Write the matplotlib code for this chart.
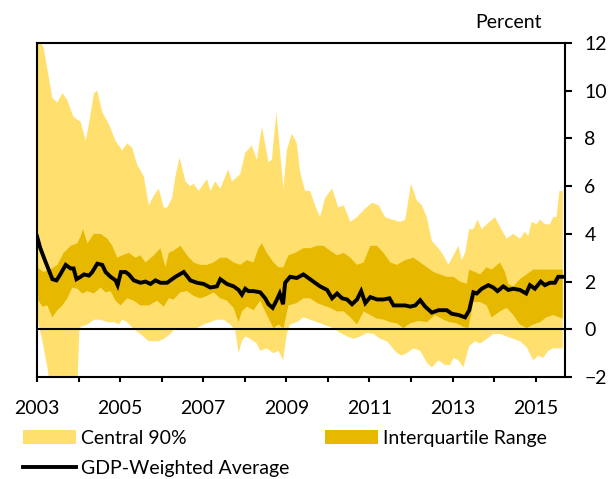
import numpy as np
import matplotlib
matplotlib.use("Agg")
import matplotlib.pyplot as plt
from matplotlib.patches import Patch
from matplotlib.lines import Line2D

plt.rcParams['font.family'] = ['Lato', 'DejaVu Sans']

# upper bound of central 90% band
p95_t = [2003.00, 2003.16, 2003.28, 2003.37, 2003.49, 2003.61, 2003.73, 2003.88, 2004.05, 2004.17,
         2004.25, 2004.37, 2004.45, 2004.57, 2004.73, 2004.89, 2005.05, 2005.17, 2005.29, 2005.41,
         2005.57, 2005.69, 2005.81, 2005.93, 2006.05, 2006.13, 2006.25, 2006.33, 2006.43, 2006.57,
         2006.69, 2006.77, 2006.89, 2007.09, 2007.17, 2007.29, 2007.41, 2007.60, 2007.69, 2007.89,
         2008.01, 2008.17, 2008.29, 2008.41, 2008.57, 2008.65, 2008.76, 2008.93, 2009.01, 2009.13,
         2009.25, 2009.33, 2009.45, 2009.57, 2009.69, 2009.81, 2009.93, 2010.10, 2010.25, 2010.38,
         2010.54, 2010.70, 2010.86, 2011.06, 2011.22, 2011.38, 2011.54, 2011.74, 2011.86, 2012.00,
         2012.14, 2012.26, 2012.38, 2012.50, 2012.66, 2012.78, 2012.90, 2013.02, 2013.14, 2013.22,
         2013.30, 2013.40, 2013.50, 2013.60, 2013.70, 2013.82, 2014.02, 2014.14, 2014.30, 2014.46,
         2014.62, 2014.74, 2014.82, 2014.90, 2015.02, 2015.10, 2015.22, 2015.34, 2015.42, 2015.50,
         2015.57, 2015.65]
p95 = [12.3, 11.8, 10.6, 9.7, 9.5, 9.9, 9.6, 8.9, 8.7, 7.9,
       8.6, 9.9, 10.0, 9.1, 8.6, 7.9, 7.5, 7.8, 7.6, 6.9,
       6.4, 5.2, 5.6, 5.9, 5.1, 5.1, 5.5, 6.4, 7.2, 6.2,
       6.0, 6.1, 5.8, 6.3, 5.8, 6.2, 5.9, 6.7, 6.2, 6.5,
       7.4, 7.7, 7.1, 8.5, 7.0, 7.1, 9.1, 5.9, 7.5, 8.2,
       7.8, 6.6, 5.8, 5.8, 5.2, 4.7, 5.5, 5.9, 5.1, 5.2,
       4.5, 4.7, 5.0, 5.3, 5.2, 4.7, 4.6, 4.5, 4.6, 6.1,
       5.4, 5.2, 4.7, 3.7, 3.4, 3.1, 2.7, 3.1, 3.5, 2.9,
       3.2, 4.2, 4.2, 4.6, 4.2, 4.4, 4.7, 4.3, 3.8, 4.0,
       3.8, 4.1, 3.9, 4.5, 4.4, 4.6, 4.4, 4.4, 4.7, 4.7,
       5.8, 5.8]

# lower bound of central 90% band
p05_t = [2003.00, 2003.13, 2003.25, 2003.32, 2003.56, 2003.81, 2003.97, 2004.02, 2004.05, 2004.21,
         2004.37, 2004.53, 2004.69, 2004.85, 2004.97, 2005.05, 2005.17, 2005.33, 2005.49, 2005.69,
         2005.81, 2005.93, 2006.05, 2006.21, 2006.33, 2006.45, 2006.69, 2006.85, 2007.01, 2007.17,
         2007.33, 2007.49, 2007.65, 2007.77, 2007.85, 2007.93, 2008.01, 2008.13, 2008.29, 2008.37,
         2008.53, 2008.69, 2008.81, 2008.92, 2009.01, 2009.09, 2009.25, 2009.41, 2009.57, 2009.74,
         2009.89, 2010.13, 2010.30, 2010.46, 2010.62, 2010.78, 2010.94, 2011.10, 2011.26, 2011.42,
         2011.54, 2011.66, 2011.78, 2011.90, 2012.06, 2012.22, 2012.38, 2012.50, 2012.66, 2012.82,
         2012.94, 2013.02, 2013.14, 2013.26, 2013.40, 2013.54, 2013.66, 2013.82, 2013.98, 2014.14,
         2014.30, 2014.46, 2014.62, 2014.78, 2014.94, 2015.06, 2015.18, 2015.30, 2015.42, 2015.65]
p05 = [0.5, -0.5, -1.6, -2.5, -2.5, -2.5, -2.5, 0.0, 0.1, 0.2,
       0.4, 0.4, 0.3, 0.3, 0.2, 0.4, 0.3, 0.0, -0.2, -0.5,
       -0.5, -0.5, -0.4, -0.2, 0.05, 0.05, 0.0, 0.05, 0.2, 0.3,
       0.4, 0.4, 0.2, -0.05, -1.0, -0.5, -0.3, -0.4, -0.6, -0.9,
       -0.8, -1.0, -0.9, -1.3, -0.2, 0.2, 0.3, 0.5, 0.4, 0.3,
       0.2, 0.05, -0.15, -0.3, -0.4, -0.3, -0.15, -0.2, -0.4, -0.5,
       -0.75, -1.0, -1.1, -1.0, -0.8, -0.9, -1.4, -1.6, -1.3, -1.5,
       -1.5, -1.2, -1.3, -1.6, -0.7, -0.5, -0.6, -0.4, -0.2, -0.2,
       -0.3, -0.4, -0.5, -0.75, -1.3, -1.1, -1.2, -0.9, -0.8, -0.8]

# upper quartile
p75_t = [2003.00, 2003.16, 2003.32, 2003.49, 2003.64, 2003.81, 2003.97, 2004.05, 2004.11, 2004.21,
         2004.37, 2004.53, 2004.69, 2004.81, 2004.93, 2005.05, 2005.21, 2005.37, 2005.49, 2005.61,
         2005.81, 2005.97, 2006.09, 2006.17, 2006.29, 2006.45, 2006.61, 2006.77, 2006.93, 2007.09,
         2007.25, 2007.41, 2007.57, 2007.73, 2007.89, 2008.05, 2008.21, 2008.33, 2008.41, 2008.53,
         2008.69, 2008.81, 2008.93, 2009.05, 2009.21, 2009.41, 2009.57, 2009.74, 2009.89, 2010.05,
         2010.22, 2010.38, 2010.54, 2010.70, 2010.86, 2011.02, 2011.18, 2011.34, 2011.50, 2011.66,
         2011.86, 2012.06, 2012.22, 2012.38, 2012.54, 2012.70, 2012.86, 2013.02, 2013.18, 2013.34,
         2013.40, 2013.54, 2013.66, 2013.82, 2013.94, 2014.14, 2014.26, 2014.34, 2014.46, 2014.62,
         2014.78, 2014.94, 2015.10, 2015.26, 2015.42, 2015.65]
p75 = [2.6, 2.4, 2.5, 2.7, 3.2, 3.5, 3.6, 3.9, 4.2, 3.6,
       4.0, 4.0, 3.8, 3.5, 3.0, 3.1, 3.2, 3.0, 3.1, 2.8,
       3.1, 3.4, 2.6, 3.2, 3.3, 3.5, 3.1, 2.8, 2.7, 2.7,
       2.8, 3.0, 3.0, 2.8, 2.7, 2.9, 2.8, 3.4, 3.6, 3.2,
       2.8, 2.6, 2.6, 3.1, 3.2, 3.4, 3.4, 3.5, 3.5, 3.3,
       3.1, 3.2, 3.0, 2.7, 2.8, 3.5, 3.5, 3.2, 2.8, 2.7,
       2.9, 3.0, 2.8, 2.6, 2.4, 2.3, 2.2, 2.2, 2.0, 1.9,
       2.5, 2.4, 2.3, 2.6, 2.5, 2.8, 2.4, 1.9, 1.8, 2.1,
       2.3, 2.5, 2.5, 2.5, 2.5, 2.5]

# lower quartile
p25_t = [2003.00, 2003.13, 2003.25, 2003.37, 2003.49, 2003.61, 2003.73, 2003.85, 2003.97, 2004.09,
         2004.21, 2004.37, 2004.53, 2004.65, 2004.77, 2004.89, 2005.01, 2005.17, 2005.33, 2005.49,
         2005.69, 2005.89, 2006.05, 2006.17, 2006.29, 2006.45, 2006.61, 2006.77, 2006.93, 2007.09,
         2007.25, 2007.41, 2007.57, 2007.73, 2007.85, 2007.93, 2008.05, 2008.21, 2008.37, 2008.53,
         2008.69, 2008.81, 2008.93, 2009.05, 2009.25, 2009.41, 2009.57, 2009.74, 2009.89, 2010.05,
         2010.22, 2010.38, 2010.54, 2010.70, 2010.86, 2011.02, 2011.18, 2011.34, 2011.50, 2011.66,
         2011.82, 2011.98, 2012.18, 2012.38, 2012.58, 2012.78, 2012.94, 2013.10, 2013.26, 2013.38,
         2013.50, 2013.66, 2013.82, 2013.94, 2014.14, 2014.30, 2014.46, 2014.62, 2014.78, 2014.94,
         2015.10, 2015.26, 2015.42, 2015.65]
p25 = [1.3, 0.95, 1.0, 0.5, 0.8, 1.0, 1.3, 1.75, 1.7, 1.5,
       1.6, 1.5, 1.75, 1.55, 1.6, 1.2, 1.0, 1.3, 1.2, 1.0,
       1.0, 1.2, 0.95, 1.3, 1.25, 1.55, 1.6, 1.4, 1.3, 1.4,
       1.55, 1.3, 1.2, 0.9, 0.3, 0.75, 0.95, 0.8, 1.2, 0.6,
       0.05, 0.2, 0.05, 1.0, 1.1, 1.3, 1.3, 1.1, 1.0, 0.9,
       0.75, 0.75, 0.5, 0.2, 0.75, 0.6, 0.45, 0.4, 0.3, 0.25,
       0.05, 0.25, 0.35, 0.3, 0.6, 0.4, 0.3, 0.25, 0.1, 0.05,
       1.15, 1.15, 1.0, 0.5, 0.75, 0.9, 0.6, 0.2, 0.05, 0.2,
       0.3, 0.5, 0.6, 0.45]

# GDP-weighted average
avg_t = [2003.00, 2003.08, 2003.20, 2003.28, 2003.37, 2003.47, 2003.56, 2003.69, 2003.81, 2003.88,
         2003.95, 2004.05, 2004.13, 2004.25, 2004.33, 2004.45, 2004.57, 2004.65, 2004.77, 2004.89,
         2004.94, 2005.02, 2005.13, 2005.21, 2005.33, 2005.49, 2005.61, 2005.73, 2005.85, 2005.97,
         2006.13, 2006.33, 2006.53, 2006.69, 2006.85, 2007.01, 2007.17, 2007.33, 2007.41, 2007.57,
         2007.73, 2007.85, 2007.93, 2008.01, 2008.09, 2008.21, 2008.37, 2008.49, 2008.57, 2008.67,
         2008.76, 2008.84, 2008.92, 2008.97, 2009.09, 2009.25, 2009.41, 2009.53, 2009.65, 2009.81,
         2009.98, 2010.10, 2010.22, 2010.34, 2010.46, 2010.58, 2010.70, 2010.80, 2010.90, 2011.02,
         2011.18, 2011.34, 2011.48, 2011.58, 2011.74, 2011.86, 2011.98, 2012.10, 2012.22, 2012.34,
         2012.50, 2012.66, 2012.86, 2012.98, 2013.14, 2013.30, 2013.40, 2013.50, 2013.58, 2013.70,
         2013.86, 2013.98, 2014.08, 2014.22, 2014.34, 2014.46, 2014.62, 2014.77, 2014.86, 2014.98,
         2015.12, 2015.22, 2015.34, 2015.46, 2015.54, 2015.65]
avg = [3.9, 3.4, 2.85, 2.5, 2.1, 2.05, 2.3, 2.7, 2.55, 2.55,
       2.1, 2.2, 2.3, 2.25, 2.4, 2.75, 2.7, 2.4, 2.2, 2.05,
       1.85, 2.4, 2.4, 2.3, 2.05, 1.95, 2.0, 1.9, 2.05, 1.95,
       1.95, 2.2, 2.4, 2.05, 1.95, 1.9, 1.75, 1.8, 2.1, 1.9,
       1.8, 1.65, 1.45, 1.7, 1.6, 1.6, 1.55, 1.3, 1.05, 0.9,
       1.2, 1.5, 1.05, 1.95, 2.2, 2.15, 2.3, 2.15, 2.0, 1.8,
       1.65, 1.3, 1.5, 1.3, 1.25, 1.05, 1.25, 1.6, 1.1, 1.35,
       1.25, 1.25, 1.3, 1.0, 1.0, 1.0, 0.95, 1.0, 1.22, 0.95,
       0.7, 0.8, 0.8, 0.65, 0.6, 0.5, 0.8, 1.55, 1.5, 1.7,
       1.85, 1.75, 1.6, 1.8, 1.65, 1.7, 1.65, 1.5, 1.85, 1.7,
       2.0, 1.85, 1.95, 1.95, 2.2, 2.2]

years = list(range(2003, 2016))
light = '#FFE06E'
dark = '#E6B800'

fig = plt.figure(figsize=(6.09, 4.79), dpi=100)
ax = fig.add_axes([37 / 609, 1 - 377 / 479, (565 - 37) / 609, (377 - 43) / 479])

ax.fill(np.concatenate([p95_t, p05_t[::-1]]), np.concatenate([p95, p05[::-1]]),
        color=light, lw=0, zorder=1)
ax.fill(np.concatenate([p75_t, p25_t[::-1]]), np.concatenate([p75, p25[::-1]]),
        color=dark, lw=0, zorder=2)
ax.axhline(0, color='black', lw=1.5, zorder=3)
ax.plot(avg_t, avg, color='black', lw=2.8, zorder=4, solid_joinstyle='miter')

ax.set_xlim(2003, 2003 + (565 - 36.5) / 41.6)
ax.set_ylim(-2, 12)
ax.set_xticks(years)
ax.set_xticklabels([str(y) if y % 2 == 1 else '' for y in years])
ax.set_yticks(range(-2, 13, 2))
ax.yaxis.tick_right()
ax.tick_params(axis='y', direction='out', length=5, width=1.5, pad=9, labelsize=14)
ax.tick_params(axis='x', direction='out', length=3.6, width=1.5, pad=13, labelsize=14)
for s in ax.spines.values():
    s.set_linewidth(1.5)

fig.text(542 / 609, 1 - 23 / 479, 'Percent', ha='right', va='center', fontsize=14)

h1 = [Patch(color=light, lw=0), Line2D([], [], color='black', lw=2.8)]
fig.legend(h1, ['Central 90%', 'GDP-Weighted Average'], loc='upper left',
           bbox_to_anchor=(23 / 609, 1 - 430 / 479), frameon=False, fontsize=14,
           borderpad=0, borderaxespad=0, handlelength=2.7, handleheight=0.7,
           handletextpad=0.3, labelspacing=0.68)
fig.legend([Patch(color=dark, lw=0)], ['Interquartile Range'], loc='upper left',
           bbox_to_anchor=(325 / 609, 1 - 430 / 479), frameon=False, fontsize=14,
           borderpad=0, borderaxespad=0, handlelength=2.7, handleheight=0.7,
           handletextpad=0.3)

fig.savefig('out.png', dpi=100)
